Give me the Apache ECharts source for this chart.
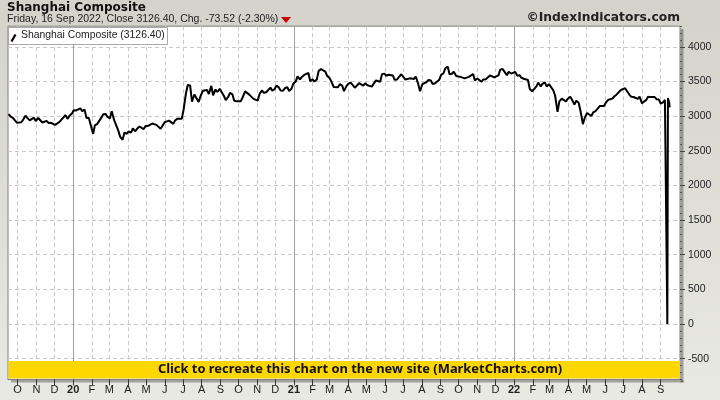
<!DOCTYPE html>
<html><head><meta charset="utf-8">
<script src="https://cdn.jsdelivr.net/npm/echarts@6/dist/echarts.min.js"></script>
<style>html,body{margin:0;padding:0;background:#d8d8d0}#c{width:720px;height:400px}</style>
</head><body><div id="c"></div>
<script>
// ---- text ----
const chartTitle = 'Shanghai Composite';
const subtitle = 'Friday, 16 Sep 2022, Close 3126.40, Chg. -73.52 (-2.30%)';
const legendText = 'Shanghai Composite (3126.40)';
const siteText = '\u00A9IndexIndicators.com';
const bannerText = 'Click to recreate this chart on the new site (MarketCharts.com)';
const monthLetters = ['J','F','M','A','M','J','J','A','S','O','N','D'];
// ---- axes ----
const axisStart = '2019-09-15';
const axisEnd = '2022-10-03';
const lastLabelDate = '2022-09-16';
const yearStarts = ['2020-01-01', '2021-01-01', '2022-01-01'];
const yMin = -800, yMax = 4300, yMinorStep = 100;
const yMajorTicks = [-500, 0, 500, 1000, 1500, 2000, 2500, 3000, 3500, 4000];
// ---- data: closes sampled Mon/Thu starting 2019-09-16 (one line per month) ----
const sampleStart = '2019-09-16';
const closes = [
  3031, 2999, 2977, 2955, 2905, 2905,
  2913, 2948, 3008, 2977, 2940, 2940, 2980, 2929,
  2975, 2978, 2909, 2909, 2933, 2903, 2906, 2889,
  2876, 2899, 2914, 2917, 2984, 3017, 2962, 3007, 3040,
  // 2020
  3085, 3083, 3094, 3115, 3074, 3095, 2976, 2976, 2976,
  2746, 2867, 2890, 2906, 2983, 3030, 3031, 2991,
  2970, 3071, 2943, 2923, 2789, 2702, 2660, 2764, 2747,
  2780, 2764, 2826, 2783, 2819, 2852, 2839, 2815, 2860,
  2860, 2871, 2894, 2870, 2875, 2867, 2818, 2846,
  2915, 2919, 2937, 2920, 2890, 2939, 2965, 2980, 2962,
  3090, 3332, 3450, 3443, 3210, 3314, 3325, 3205, 3286,
  3367, 3386, 3379, 3320, 3438, 3303, 3386, 3350, 3396,
  3384, 3292, 3234, 3278, 3338, 3316, 3223, 3217,
  3218, 3218, 3272, 3359, 3332, 3312, 3313, 3251, 3273,
  3225, 3320, 3373, 3338, 3346, 3363, 3414, 3369, 3392,
  3442, 3416, 3373, 3369, 3404, 3421, 3364, 3397, 3473,
  // 2021
  3503, 3576, 3531, 3566, 3596, 3621, 3624, 3505,
  3533, 3501, 3532, 3655, 3680, 3696, 3643, 3585,
  3551, 3503, 3421, 3436, 3419, 3463, 3443, 3363, 3435,
  3466, 3484, 3482, 3412, 3399, 3477, 3465, 3441, 3474,
  3447, 3441, 3428, 3430, 3517, 3506, 3497, 3608, 3615,
  3584, 3599, 3610, 3589, 3525, 3530, 3566, 3606,
  3588, 3530, 3525, 3547, 3564, 3539, 3574, 3467, 3361,
  3464, 3466, 3494, 3524, 3517, 3465, 3477, 3502, 3528,
  3597, 3621, 3693, 3715, 3607, 3613, 3643, 3582, 3568,
  3568, 3568, 3547, 3558, 3569, 3594, 3610, 3518,
  3545, 3526, 3498, 3532, 3533, 3520, 3589, 3584, 3562,
  3573, 3589, 3673, 3681, 3675, 3593, 3643, 3616, 3620,
  // 2022
  3640, 3586, 3593, 3555, 3541, 3555, 3524, 3394, 3361,
  3361, 3430, 3486, 3429, 3468, 3490, 3430, 3462,
  3481, 3373, 3296, 3064, 3215, 3253, 3250, 3214, 3252,
  3282, 3237, 3167, 3225, 3195, 3079, 2886, 2975,
  3047, 3068, 3004, 3054, 3073, 3086, 3146, 3123, 3149,
  3195, 3236, 3238, 3256, 3285, 3315, 3320, 3379, 3399,
  3405, 3364, 3313, 3282, 3278, 3272, 3250, 3282,
  3186, 3189, 3236, 3281, 3276, 3278, 3277, 3246, 3240,
  3184, 3199, 3236
];
// last sessions, daily (12 Sep holiday is recorded as 0 in the source chart)
const finalDates = ['2022-09-09', '2022-09-12', '2022-09-13', '2022-09-14', '2022-09-15', '2022-09-16'];
const finalCloses = [3262, 0, 3263, 3237, 3199, 3126.4];

// ---- build ----
const DAY = 86400000;
function parseD(s) { const p = s.split('-').map(Number); return Date.UTC(p[0], p[1] - 1, p[2]); }
function ymd(t) { const d = new Date(t); return d.getUTCFullYear() + '-' + String(d.getUTCMonth() + 1).padStart(2, '0') + '-' + String(d.getUTCDate()).padStart(2, '0'); }
const days = [];
for (let t = parseD(axisStart); t <= parseD(axisEnd); t += DAY) days.push(ymd(t));
const sampleDates = [];
{ let t = parseD(sampleStart); for (let i = 0; i < closes.length; i++) { sampleDates.push(ymd(t)); t += (i % 2 === 0 ? 3 : 4) * DAY; } }
const lineData = sampleDates.map((d, i) => [d, closes[i]]).concat(finalDates.map((d, i) => [d, finalCloses[i]]));

const isMonthTick = (idx, v) => v.slice(8) === '01' && v <= lastLabelDate;
const FONT = 'Liberation Sans';
const gridPos = { left: 8, right: 40, top: 26.2, height: 353.2 };
const dash = [4, 3];

const chart = echarts.init(document.getElementById('c'), null, { renderer: 'canvas' });
chart.setOption({
  animation: false,
  backgroundColor: { type: 'linear', x: 0, y: 0, x2: 0, y2: 1, colorStops: [{ offset: 0, color: '#d3d3cb' }, { offset: 1, color: '#e9e9e3' }] },
  grid: [
    Object.assign({ show: true, backgroundColor: '#ffffff', borderColor: '#808080', borderWidth: 1 }, gridPos),
    Object.assign({ show: false }, gridPos)
  ],
  xAxis: [{
    type: 'category', gridIndex: 0, data: days, boundaryGap: false,
    axisLine: { show: true, onZero: false, lineStyle: { color: '#808080', width: 1 } },
    axisTick: { show: true, interval: isMonthTick, length: 6, lineStyle: { color: '#333', width: 1 } },
    axisLabel: {
      show: true, interval: isMonthTick, margin: 5, color: '#222', fontSize: 11, fontFamily: FONT,
      formatter: v => { const m = Number(v.slice(5, 7)) - 1; return m === 0 ? '{y|' + v.slice(2, 4) + '}' : monthLetters[m]; },
      rich: { y: { fontWeight: 'bold', fontSize: 11, fontFamily: FONT, color: '#222' } }
    },
    splitLine: { show: true, interval: isMonthTick, lineStyle: { color: '#c8c8c8', type: dash, width: 1 } }
  }, {
    type: 'category', gridIndex: 1, data: days, show: false, axisLine: { onZero: false }
  }],
  yAxis: [{
    type: 'value', gridIndex: 0, position: 'right', min: yMin, max: yMax, interval: yMinorStep,
    axisLine: { show: false },
    axisTick: { show: true, length: 2, lineStyle: { color: '#555' } },
    axisLabel: { margin: 8, color: '#222', fontSize: 10.5, fontFamily: FONT,
      formatter: v => (yMajorTicks.indexOf(v) >= 0 ? String(v) : '') },
    splitLine: { show: false }
  }, {
    type: 'value', gridIndex: 1, position: 'right', min: yMin, max: yMax,
    axisLine: { show: false },
    axisTick: { show: true, length: 5, customValues: yMajorTicks, lineStyle: { color: '#444' } },
    axisLabel: { show: false },
    splitLine: { show: false }
  }],
  series: [{
    type: 'line', xAxisIndex: 0, yAxisIndex: 0, data: [], z: 1, silent: true,
    markLine: {
      silent: true, symbol: ['none', 'none'], label: { show: false }, animation: false,
      data: yMajorTicks.map(v => ({ yAxis: v, lineStyle: { color: '#c8c8c8', type: dash, width: 1 } }))
        .concat(yearStarts.map(d => ({ xAxis: d, lineStyle: { color: '#a0a0a0', type: 'solid', width: 1 } })))
    }
  }, {
    name: chartTitle, type: 'line', xAxisIndex: 0, yAxisIndex: 0, data: lineData, z: 10,
    showSymbol: false, symbol: 'none', silent: true,
    lineStyle: { color: '#000000', width: 2 }
  }],
  graphic: [
    // frame drop shadow (right and bottom), behind everything
    { type: 'rect', z: -10, silent: true, shape: { x: 680.5, y: 29, width: 3, height: 353.5 }, style: { fill: 'rgba(0,0,0,0.3)' } },
    { type: 'rect', z: -10, silent: true, shape: { x: 11, y: 380, width: 672.5, height: 2.5 }, style: { fill: 'rgba(0,0,0,0.3)' } },
    { type: 'text', left: 7, top: 2, z: 50, style: { text: chartTitle, font: 'bold 12px "DejaVu Sans"', fill: '#111' } },
    { type: 'text', left: 7, top: 14, z: 50, style: { text: subtitle, font: '10.5px "' + FONT + '"', fill: '#222' } },
    { type: 'polygon', z: 50, shape: { points: [[281, 17], [291, 17], [286, 23]] }, style: { fill: '#cc0000' } },
    { type: 'text', right: 40, top: 12, z: 50, style: { text: siteText, font: 'bold 12.3px "DejaVu Sans"', fill: '#222', textAlign: 'right' } },
    { type: 'rect', z: 50, shape: { x: 8.5, y: 27.5, width: 159, height: 17 }, style: { fill: '#ffffff', stroke: '#a8a8a8', lineWidth: 1 } },
    { type: 'line', z: 51, shape: { x1: 11.5, y1: 41.5, x2: 15.5, y2: 34.5 }, style: { stroke: '#000', lineWidth: 2.2 } },
    { type: 'text', left: 21, top: 30.5, z: 51, style: { text: legendText, font: '10.4px "' + FONT + '"', fill: '#222' } },
    { type: 'rect', z: 50, shape: { x: 8.5, y: 361, width: 671.5, height: 17.5 }, style: { fill: '#ffd700' } },
    { type: 'text', z: 51, x: 360, y: 369.8, style: { text: bannerText, font: 'bold 12.9px "Noto Sans"', fill: '#111', textAlign: 'center', textVerticalAlign: 'middle' } }
  ]
});
</script>
</body></html>
